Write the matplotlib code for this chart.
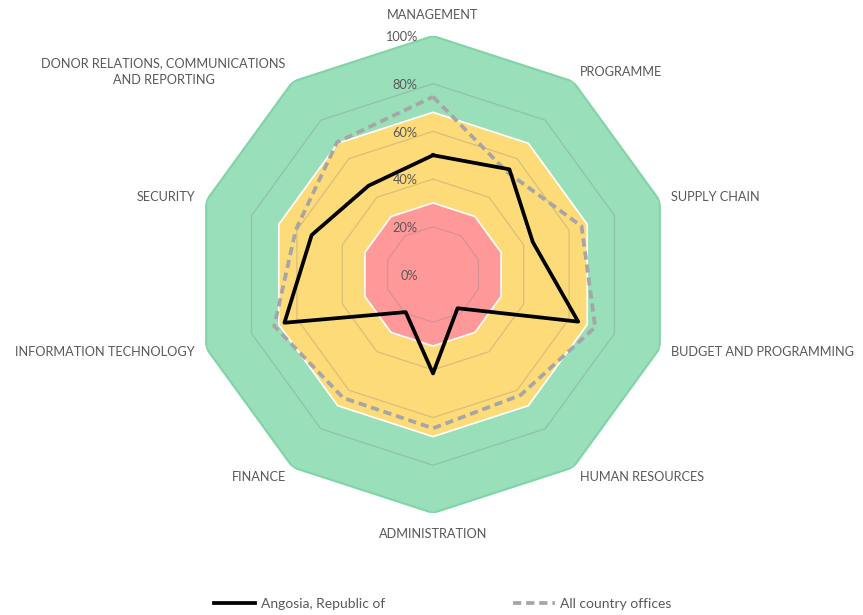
import numpy as np
import matplotlib
matplotlib.use('Agg')
import matplotlib.pyplot as plt
from matplotlib.lines import Line2D

plt.rcParams['font.family'] = ['Lato', 'DejaVu Sans']

categories = ['MANAGEMENT', 'PROGRAMME', 'SUPPLY CHAIN', 'BUDGET AND PROGRAMMING',
              'HUMAN RESOURCES', 'ADMINISTRATION', 'FINANCE', 'INFORMATION TECHNOLOGY',
              'SECURITY', 'DONOR RELATIONS, COMMUNICATIONS\nAND REPORTING']
angosia = [0.50, 0.545, 0.44, 0.64, 0.175, 0.415, 0.195, 0.655, 0.535, 0.46]
all_offices = [0.745, 0.53, 0.655, 0.715, 0.625, 0.645, 0.64, 0.70, 0.605, 0.685]

# background bands (outer edge of each band)
band_levels = [1.0, 0.68, 0.30]
band_colors = ['#99dfb9', '#fedb79', '#ff9999']
grid_levels = [0.2, 0.4, 0.6, 0.8]
tick_levels = [0, 0.2, 0.4, 0.6, 0.8, 1.0]
tick_labels = ['0%', '20%', '40%', '60%', '80%', '100%']

n = len(categories)
theta = np.linspace(0, 2 * np.pi, n, endpoint=False)
theta_c = np.append(theta, theta[0])


def closed(vals):
    return np.append(vals, vals[0])


fs = 9.2
fig = plt.figure(figsize=(8.63, 6.15), dpi=100)
ax = fig.add_axes([0.2254, 0.1659, 0.5527, 0.7756], projection='polar')
ax.set_theta_zero_location('N')
ax.set_theta_direction(-1)
ax.set_ylim(0, 1)
ax.grid(False)
ax.set_xticks([])
ax.set_yticks([])
ax.spines['polar'].set_visible(False)
ax.patch.set_alpha(0)

# bands
ax.fill(theta_c, closed([band_levels[0]] * n), color=band_colors[0], ec='#80d4a6',
        lw=1.5, joinstyle='round', zorder=1)
for lev, col in zip(band_levels[1:], band_colors[1:]):
    ax.fill(theta_c, closed([lev] * n), color=col, ec='white', lw=1.2,
            joinstyle='round', zorder=2)

# polygon grid
for g in grid_levels:
    ax.plot(theta_c, closed([g] * n), color='#7f7f7f', alpha=0.3, lw=0.9, zorder=3)

# percent labels
for r, lab in zip(tick_levels, tick_labels):
    ax.annotate(lab, xy=(0, r), xytext=(-11, -1), textcoords='offset points',
                ha='right', va='center', fontsize=fs, color='#595959', zorder=6)

# series
ax.plot(theta_c, closed(all_offices), color='#a6a6a6', lw=2.7, ls=(0, (2.2, 1.3)),
        zorder=4)
ax.plot(theta_c, closed(angosia), color='black', lw=2.7, zorder=5)

# category labels
for t, lab in zip(theta, categories):
    s = np.sin(t)
    if abs(s) < 1e-6:
        ax.text(t, 1.087, lab, ha='center', va='center', fontsize=fs, color='#595959')
    else:
        ax.text(t, 1.05, lab, ha='left' if s > 0 else 'right', va='center',
                multialignment='center', fontsize=fs, color='#595959',
                linespacing=1.5)

handles = [Line2D([], [], color='black', lw=2.7),
           Line2D([], [], color='#a6a6a6', lw=2.7, ls=(0, (2.2, 1.3)))]
leg = fig.legend(handles, ['Angosia, Republic of', 'All country offices'],
                 loc='center', bbox_to_anchor=(0.513, 0.018), ncol=2, frameon=False,
                 fontsize=10, handlelength=3.0, handletextpad=0.4,
                 columnspacing=9.2, labelcolor='#595959')

fig.savefig('out.png', dpi=100)
